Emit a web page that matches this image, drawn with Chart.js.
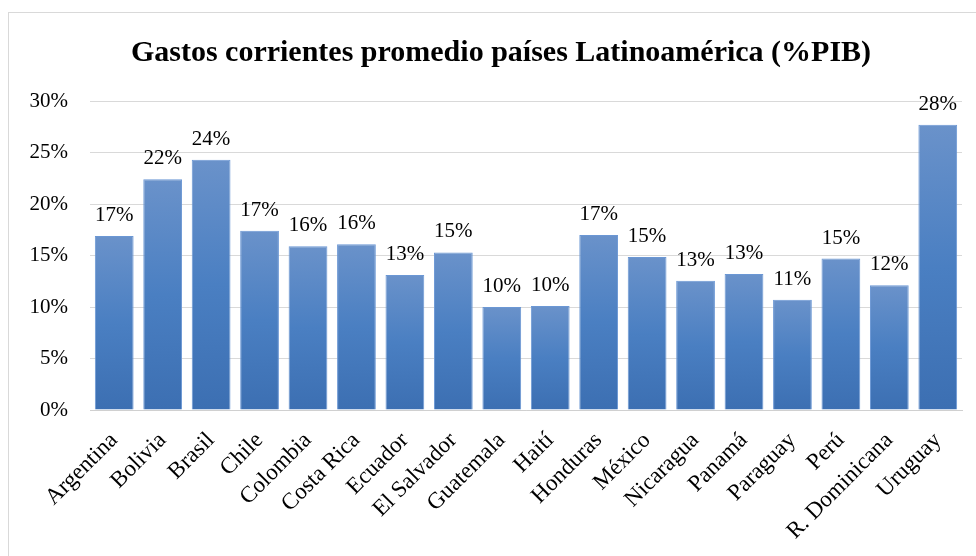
<!DOCTYPE html>
<html>
<head>
<meta charset="utf-8">
<script src="https://cdn.jsdelivr.net/npm/chart.js@4"></script>
<style>
  html, body { margin: 0; padding: 0; background: #fff; }
  #frame { position: absolute; left: 8px; top: 12px; width: 1000px; height: 600px; border: 1px solid #d9d9d9; }
  #wrap { position: absolute; left: 0; top: 0; width: 976px; height: 556px; }
</style>
</head>
<body>
<div id="frame"></div>
<div id="wrap"><canvas id="gastosChart" width="976" height="556"></canvas></div>
<script>
const paises = ["Argentina", "Bolivia", "Brasil", "Chile", "Colombia", "Costa Rica", "Ecuador",
  "El Salvador", "Guatemala", "Haití", "Honduras", "México", "Nicaragua", "Panamá",
  "Paraguay", "Perú", "R. Dominicana", "Uruguay"];
// gasto corriente promedio, % del PIB
const gastoPIB = [16.9, 22.4, 24.3, 17.4, 15.9, 16.1, 13.1, 15.3, 10.0, 10.1, 17.0, 14.85,
  12.55, 13.2, 10.7, 14.7, 12.1, 27.7];
const tituloGrafico = "Gastos corrientes promedio países Latinoamérica (%PIB)";

const serif = "'Liberation Serif', 'Times New Roman', serif";

// gradient per bar, lighter at the top
function barGradient(context) {
  const chart = context.chart;
  if (!chart.chartArea) return "#4a7ebf";
  const y = chart.scales.y;
  const top = y.getPixelForValue(context.raw);
  const bottom = y.getPixelForValue(0);
  const g = chart.ctx.createLinearGradient(0, top, 0, bottom);
  g.addColorStop(0, "#6a92ca");
  g.addColorStop(0.5, "#4a7fc2");
  g.addColorStop(1, "#3c6fb2");
  return g;
}

// title centred on the whole frame, not on the canvas box
const tituloPlugin = {
  id: "tituloPlugin",
  afterDraw(chart) {
    const ctx = chart.ctx;
    ctx.save();
    ctx.font = "bold 30px " + serif;
    ctx.fillStyle = "#000";
    ctx.textAlign = "center";
    ctx.textBaseline = "alphabetic";
    ctx.fillText(tituloGrafico, 501, 61);
    ctx.restore();
  }
};

const valueLabels = {
  id: "valueLabels",
  afterDatasetsDraw(chart) {
    const ctx = chart.ctx;
    const meta = chart.getDatasetMeta(0);
    ctx.save();
    ctx.font = "21px " + serif;
    ctx.fillStyle = "#000";
    ctx.textAlign = "center";
    ctx.textBaseline = "alphabetic";
    meta.data.forEach((bar, i) => {
      ctx.fillText(Math.round(gastoPIB[i]) + "%", bar.x, bar.y - 15);
    });
    ctx.restore();
  }
};

new Chart(document.getElementById("gastosChart"), {
  type: "bar",
  data: {
    labels: paises,
    datasets: [{
      data: gastoPIB,
      backgroundColor: barGradient,
      borderColor: "#6b97d4",
      borderWidth: 1,
      borderSkipped: "bottom",
      categoryPercentage: 1,
      barPercentage: 0.8
    }]
  },
  options: {
    responsive: false,
    animation: false,
    layout: { padding: { left: 0, right: 14, top: 101, bottom: 0 } },
    plugins: {
      legend: { display: false },
      tooltip: { enabled: false },
      title: { display: false }
    },
    scales: {
      x: {
        grid: { display: false },
        border: { color: "#d0d0d0", width: 1 },
        ticks: {
          color: "#000",
          font: { family: serif, size: 23 },
          minRotation: 45,
          maxRotation: 45,
          autoSkip: false,
          padding: 9
        },
        afterFit(scale) { scale.height = 146; }
      },
      y: {
        min: 0,
        max: 30,
        grid: { color: "#d9d9d9", lineWidth: 1, drawTicks: false },
        border: { display: false },
        ticks: {
          stepSize: 5,
          color: "#000",
          font: { family: serif, size: 21 },
          padding: 22,
          callback: v => v + "%"
        },
        afterFit(scale) { scale.width = 90; }
      }
    }
  },
  plugins: [valueLabels, tituloPlugin]
});
</script>
</body>
</html>
